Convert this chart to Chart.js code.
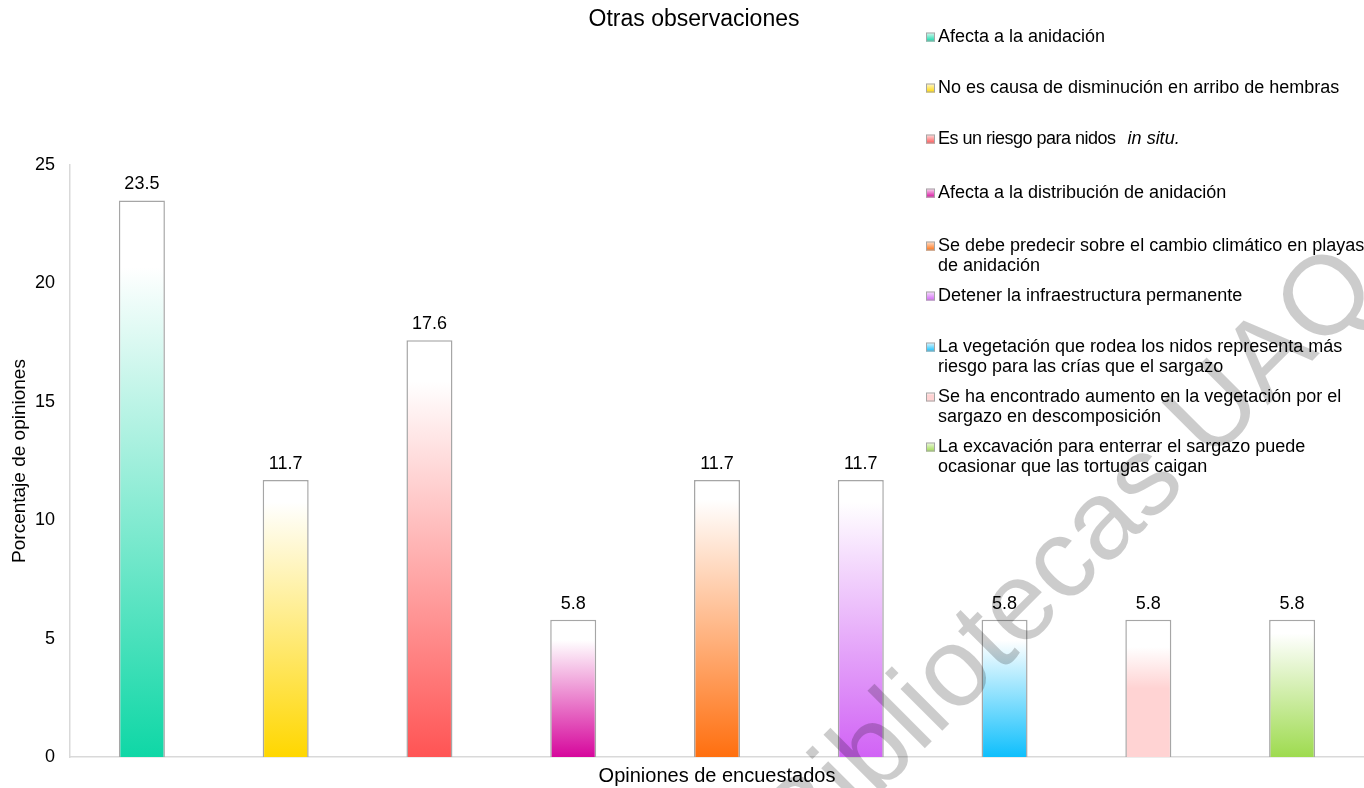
<!DOCTYPE html>
<html>
<head>
<meta charset="utf-8">
<title>Otras observaciones</title>
<script src="https://cdn.jsdelivr.net/npm/chart.js@4.4.1/dist/chart.umd.min.js"></script>
<style>
  body { margin: 0; background: #ffffff; }
  #wrap { width: 1364px; height: 788px; position: relative; }
</style>
</head>
<body>
<div id="wrap"><canvas id="opinionsChart" width="1364" height="788"></canvas></div>
<script>
// Survey categories (legend text, one entry per line of a label)
const categories = [
    ['Afecta a la anidación'],
    ['No es causa de disminución en arribo de hembras'],
    ['Es un riesgo para nidos in situ.'],
    ['Afecta a la distribución de anidación'],
    ['Se debe predecir sobre el cambio climático en playas', 'de anidación'],
    ['Detener la infraestructura permanente'],
    ['La vegetación que rodea los nidos representa más', 'riesgo para las crías que el sargazo'],
    ['Se ha encontrado aumento en la vegetación por el', 'sargazo en descomposición'],
    ['La excavación para enterrar el sargazo puede', 'ocasionar que las tortugas caigan']
];

// Percentage of opinions per category
const percentages = [23.5, 11.7, 17.6, 5.8, 11.7, 11.7, 5.8, 5.8, 5.8];

// Y axis ticks
const yTicks = [0, 5, 10, 15, 20, 25];

// Bar fill colours (bottom of the gradient)
const barColors = ['#0fd7a6', '#ffd700', '#ff5454', '#d6079c', '#ff6f0f', '#d163f5', '#0fbffc', '#ffd3d3', '#9edb4f'];
// where each gradient reaches white (fraction of bar height) and where it starts fading
const whiteAt = [0.88, 0.92, 0.9, 0.85, 0.93, 0.92, 0.85, 0.8, 0.9];
const holdAt = [0, 0, 0, 0, 0, 0, 0, 0.5, 0];

const FONT = "'Liberation Sans', Arial, sans-serif";
const italicTerm = 'in situ.';

function fadeGradient(ctx, i, yBottom, yTop) {
    const g = ctx.createLinearGradient(0, yBottom, 0, yTop);
    g.addColorStop(0, barColors[i]);
    if (holdAt[i] > 0) g.addColorStop(holdAt[i], barColors[i]);
    g.addColorStop(whiteAt[i], '#ffffff');
    g.addColorStop(1, '#ffffff');
    return g;
}

function barFill(context) {
    const chart = context.chart;
    const i = context.dataIndex;
    const yScale = chart.scales.y;
    if (!chart.chartArea || !yScale) return barColors[i];
    const y0 = yScale.getPixelForValue(0);
    const y1 = yScale.getPixelForValue(percentages[i]);
    return fadeGradient(chart.ctx, i, y0, y1);
}

// semi-transparent library stamp across the plot
function drawStamp(ctx) {
    ctx.save();
    ctx.translate(805, 868);
    ctx.rotate(-45 * Math.PI / 180);
    ctx.font = '112px ' + FONT;
    ctx.textBaseline = 'alphabetic';
    ctx.fillStyle = 'rgba(0, 0, 0, 0.2)';
    ctx.fillText('Bibliotecas UAQ', 0, 0);
    ctx.restore();
}

// Title, value labels, side legend and the stamp
const decorations = {
    id: 'decorations',
    afterDatasetsDraw(chart) {
        const ctx = chart.ctx;
        const meta = chart.getDatasetMeta(0);
        ctx.save();
        ctx.fillStyle = '#000000';
        ctx.font = '18px ' + FONT;
        ctx.textAlign = 'center';
        ctx.textBaseline = 'middle';
        meta.data.forEach((bar, i) => {
            ctx.fillText(percentages[i].toFixed(1), bar.x, bar.y - 16);
        });
        ctx.restore();
    },
    afterDraw(chart) {
        const ctx = chart.ctx;
        ctx.save();

        // chart title
        ctx.fillStyle = '#000000';
        ctx.font = '23px ' + FONT;
        ctx.textAlign = 'center';
        ctx.textBaseline = 'middle';
        ctx.fillText('Otras observaciones', 694, 20);

        // legend
        const firstLine = [37, 88, 139, 193, 246, 296, 347, 397, 447];
        const markX = 926, markSize = 9, textX = 938, lineGap = 20;
        ctx.textAlign = 'left';
        categories.forEach((lines, i) => {
            const y = firstLine[i];
            ctx.fillStyle = fadeGradient(ctx, i, y + markSize / 2, y - markSize / 2 - 3);
            ctx.fillRect(markX, y - markSize / 2, markSize, markSize);
            ctx.strokeStyle = '#a6a6a6';
            ctx.lineWidth = 1;
            ctx.strokeRect(markX + 0.5, y - markSize / 2 + 0.5, markSize - 1, markSize - 1);
            ctx.fillStyle = '#000000';
            lines.forEach((line, k) => {
                const ly = y + k * lineGap;
                ctx.font = '18px ' + FONT;
                if (line.endsWith(italicTerm)) {
                    // this entry is set a little tighter, with the Latin term in italics
                    const head = line.slice(0, line.length - italicTerm.length).trim();
                    ctx.letterSpacing = '-0.5px';
                    ctx.fillText(head, textX, ly);
                    const w = ctx.measureText(head).width;
                    ctx.letterSpacing = '0px';
                    ctx.font = 'italic 18px ' + FONT;
                    ctx.fillText(italicTerm, textX + w + 12, ly);
                } else {
                    ctx.fillText(line, textX, ly);
                }
            });
        });
        ctx.restore();

        drawStamp(ctx);
    }
};

const canvas = document.getElementById('opinionsChart');
const opinionsChart = new Chart(canvas.getContext('2d'), {
    type: 'bar',
    data: {
        labels: categories.map(c => c.join(' ')),
        datasets: [{
            data: percentages,
            backgroundColor: barFill,
            borderColor: '#a6a6a6',
            borderWidth: 1.5,
            barPercentage: 0.32,
            categoryPercentage: 1
        }]
    },
    options: {
        responsive: false,
        animation: false,
        layout: { padding: { top: 165, left: 0, right: 0, bottom: 0 } },
        plugins: {
            legend: { display: false },
            tooltip: { enabled: false },
            title: { display: false }
        },
        scales: {
            x: {
                grid: { display: false },
                border: { display: true, color: '#d9d9d9', width: 1.5 },
                ticks: { display: false },
                title: {
                    display: true,
                    text: 'Opiniones de encuestados',
                    color: '#000000',
                    font: { family: FONT, size: 20 },
                    padding: { top: 0, bottom: 0 }
                },
                afterFit(scale) { scale.height = 31; }
            },
            y: {
                min: 0,
                max: 25,
                grid: { display: false, drawTicks: false },
                border: { display: true, color: '#d9d9d9', width: 1.5 },
                afterBuildTicks(scale) { scale.ticks = yTicks.map(v => ({ value: v })); },
                ticks: {
                    color: '#000000',
                    font: { family: FONT, size: 18 },
                    padding: 15
                },
                title: {
                    display: true,
                    text: 'Porcentaje de opiniones',
                    color: '#000000',
                    font: { family: FONT, size: 19 },
                    padding: { top: 8, bottom: 0 }
                },
                afterFit(scale) { scale.width = 70; }
            }
        }
    },
    plugins: [decorations]
});
</script>
</body>
</html>
